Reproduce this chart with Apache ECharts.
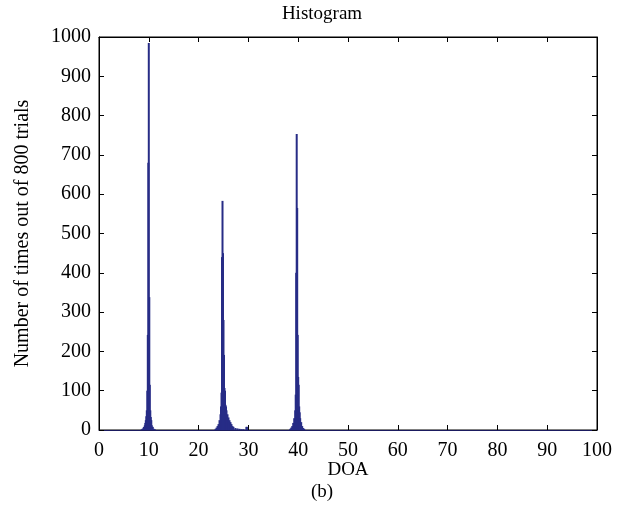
<!DOCTYPE html>
<html><head><meta charset="utf-8">
<script src="https://cdn.jsdelivr.net/npm/echarts@6/dist/echarts.min.js"></script>
<style>html,body{margin:0;padding:0;background:#fff}#c{width:644px;height:527px}</style>
</head><body><div id="c"></div>
<script>
// Histogram bin centres (DOA, degrees) and counts (number of times out of 800 trials)
const binCenters = [
  8.6, 8.8, 9.0, 9.2, 9.3, 9.4, 9.5, 9.6, 9.7, 9.8, 9.9, 10.0, 10.1, 10.2, 10.3, 10.4, 10.5, 10.6, 10.8, 11.0, 11.2,
  23.4, 23.6, 23.8, 24.0, 24.2, 24.4, 24.5, 24.6, 24.7, 24.8, 24.9, 25.0, 25.1, 25.2, 25.3, 25.4, 25.5, 25.6, 25.8, 26.0, 26.2, 26.4, 26.6, 26.8, 27.0, 27.4, 27.8, 28.2, 28.6, 29.0, 29.6, 29.7,
  38.4, 38.6, 38.8, 39.0, 39.2, 39.4, 39.5, 39.6, 39.7, 39.8, 39.9, 40.0, 40.1, 40.2, 40.3, 40.4, 40.6, 40.8, 41.0, 41.2
];
const counts = [
  2, 4, 8, 12, 18, 25, 35, 50, 100, 242, 680, 985, 338, 115, 50, 33, 25, 12, 8, 3, 2,
  3, 6, 10, 15, 25, 40, 60, 95, 440, 583, 450, 280, 191, 107, 100, 64, 60, 50, 40, 32, 25, 20, 15, 10, 8, 5, 4, 3, 2, 2, 8, 8,
  3, 6, 10, 18, 30, 50, 90, 400, 753, 565, 242, 135, 115, 60, 45, 30, 20, 10, 5, 3
];
const xTicks = [0, 10, 20, 30, 40, 50, 60, 70, 80, 90, 100];
const yTicks = [0, 100, 200, 300, 400, 500, 600, 700, 800, 900, 1000];

const font = 'Liberation Serif';
const barColor = '#272c86';
const data = binCenters.map((x, i) => [x, counts[i]]);

const chart = echarts.init(document.getElementById('c'));
const tick = () => ({show: true, inside: true, length: 5, lineStyle: {color: '#000', width: 1}});
const line = (c) => ({show: true, onZero: false, lineStyle: {color: c, width: 1}});
chart.setOption({
  animation: false,
  title: {text: 'Histogram', left: 'center', top: 0, textStyle: {fontFamily: font, fontSize: 19, fontWeight: 'normal', color: '#000'}},
  grid: {left: 99, right: 47, top: 37, bottom: 97, show: true, borderColor: '#000', borderWidth: 1, backgroundColor: 'transparent'},
  graphic: [
    {type: 'text', x: 348, y: 461, style: {text: 'DOA', font: '19px "' + font + '"', fill: '#000', align: 'center'}},
    {type: 'text', x: 322, y: 483, style: {text: '(b)', font: '19px "' + font + '"', fill: '#000', align: 'center'}}
  ],
  xAxis: [
    {type: 'value', min: 0, max: 100, interval: 10, position: 'bottom', gridIndex: 0,
     axisLine: line('#1a1a5e'), axisTick: tick(), splitLine: {show: false},
     axisLabel: {fontFamily: font, fontSize: 20, color: '#000', margin: 11, formatter: v => String(v)}},
    {type: 'value', min: 0, max: 100, interval: 10, position: 'top', gridIndex: 0,
     axisLine: line('#000'), axisTick: tick(), splitLine: {show: false}, axisLabel: {show: false}}
  ],
  yAxis: [
    {type: 'value', min: 0, max: 1000, interval: 100, position: 'left', gridIndex: 0,
     name: 'Number of times out of 800 trials', nameLocation: 'middle', nameGap: 66,
     nameTextStyle: {fontFamily: font, fontSize: 20, color: '#000'},
     axisLine: line('#000'), axisTick: tick(), splitLine: {show: false},
     axisLabel: {fontFamily: font, fontSize: 20, color: '#000', margin: 8, formatter: v => String(v)}},
    {type: 'value', min: 0, max: 1000, interval: 100, position: 'right', gridIndex: 0,
     axisLine: line('#000'), axisTick: tick(), splitLine: {show: false}, axisLabel: {show: false}}
  ],
  series: [
    {type: 'bar', xAxisIndex: 0, yAxisIndex: 0, data: data,
     barWidth: 2, itemStyle: {color: barColor}},
    {type: 'scatter', xAxisIndex: 1, yAxisIndex: 1, data: [], silent: true}
  ]
});
</script></body></html>
